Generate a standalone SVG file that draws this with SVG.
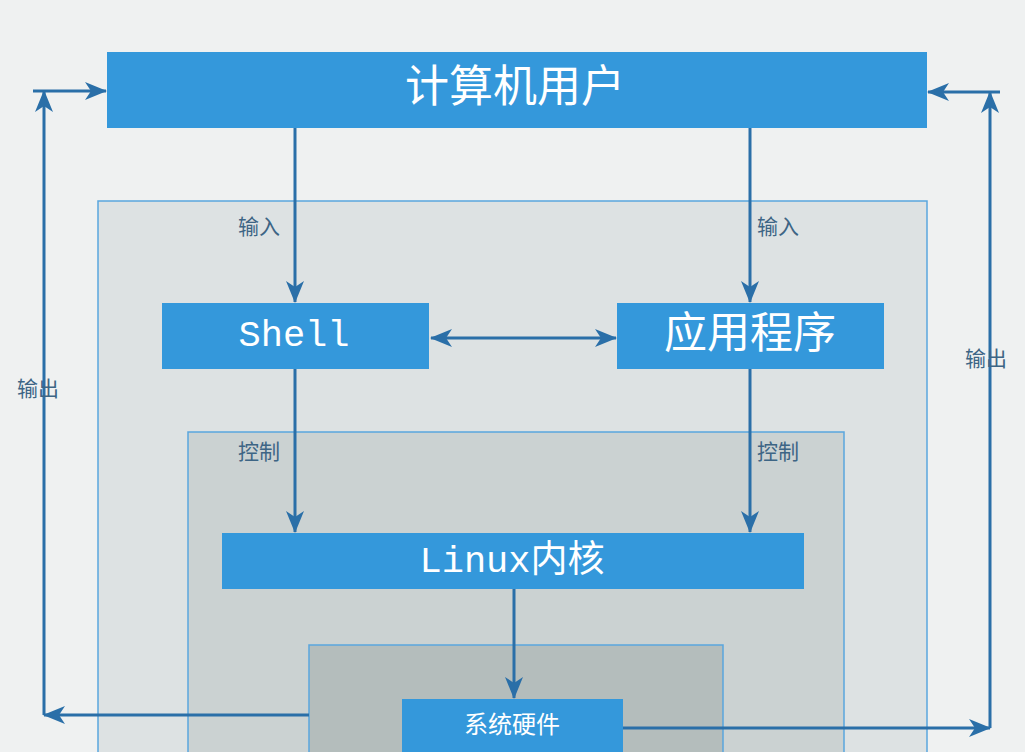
<svg xmlns="http://www.w3.org/2000/svg" width="1025" height="752" viewBox="0 0 1025 752">
<style>
.node{fill:#3498db}
.region{stroke:#5aa6de;stroke-width:1.5}
.ntext{fill:#ffffff;font-family:"Liberation Mono","Noto Sans CJK SC",monospace;text-anchor:middle;dominant-baseline:central}
.lbl{fill:#3d6585;font-family:"Noto Sans CJK SC","Noto Sans",sans-serif;font-size:21px;dominant-baseline:central}
.conn{stroke:#2a6fa8;stroke-width:3;fill:none}
</style>
<defs>
<marker id="arr" markerUnits="userSpaceOnUse" markerWidth="22" markerHeight="18" refX="21" refY="9" orient="auto-start-reverse" viewBox="0 0 22 18">
<path d="M0,0 L22,9 L0,18 L6,9 Z" fill="#2a6fa8"/>
</marker>
</defs>
<rect x="0" y="0" width="1025" height="752" fill="#eff1f1"/>
<g id="regions">
<rect class="region" x="98" y="201" width="829" height="560" fill="#dde2e3"/>
<rect class="region" x="188" y="432" width="656" height="330" fill="#cbd2d2"/>
<rect class="region" x="309" y="645" width="414" height="117" fill="#b4bdbc"/>
</g>
<g id="connectors">
<line class="conn" x1="295" y1="128" x2="295" y2="302" marker-end="url(#arr)"/>
<line class="conn" x1="750" y1="128" x2="750" y2="302" marker-end="url(#arr)"/>
<line class="conn" x1="431" y1="338" x2="616" y2="338" marker-start="url(#arr)" marker-end="url(#arr)"/>
<line class="conn" x1="295" y1="368" x2="295" y2="532" marker-end="url(#arr)"/>
<line class="conn" x1="750" y1="368" x2="750" y2="532" marker-end="url(#arr)"/>
<line class="conn" x1="514" y1="589" x2="514" y2="698" marker-end="url(#arr)"/>
<path class="conn" d="M309,715 L44,715" marker-end="url(#arr)"/>
<path class="conn" d="M44,715 L44,91" marker-end="url(#arr)"/>
<path class="conn" d="M33,91 L106,91" marker-end="url(#arr)"/>
<path class="conn" d="M623,728 L990,728" marker-end="url(#arr)"/>
<path class="conn" d="M990,728 L990,92" marker-end="url(#arr)"/>
<path class="conn" d="M1000,92 L928,92" marker-end="url(#arr)"/>
<text class="lbl" x="238" y="225">输入</text>
<text class="lbl" x="757" y="225">输入</text>
<text class="lbl" x="238" y="450">控制</text>
<text class="lbl" x="757" y="450">控制</text>
<text class="lbl" x="17" y="387">输出</text>
<text class="lbl" x="965" y="357">输出</text>
</g>
<g id="user">
<rect class="node" x="107" y="52" width="820" height="76"/>
<text class="ntext" x="515" y="90" font-size="44">计算机用户</text>
</g>
<g id="shell">
<rect class="node" x="162" y="303" width="267" height="66"/>
<text class="ntext" x="294" y="336" font-size="37">Shell</text>
</g>
<g id="app">
<rect class="node" x="617" y="303" width="267" height="66"/>
<text class="ntext" x="750" y="336" font-size="43">应用程序</text>
</g>
<g id="kernel">
<rect class="node" x="222" y="533" width="582" height="56"/>
<text class="ntext" x="512" y="562" font-size="37">Linux内核</text>
</g>
<g id="hardware">
<rect class="node" x="402" y="699" width="221" height="60"/>
<text class="ntext" x="512" y="726" font-size="24">系统硬件</text>
</g>
</svg>
